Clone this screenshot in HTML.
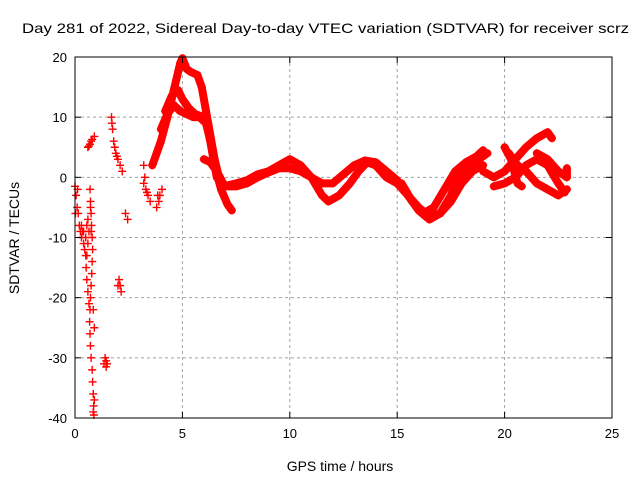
<!DOCTYPE html>
<html><head><meta charset="utf-8">
<style>
body{margin:0;background:#fff;}
svg{display:block;font-family:"Liberation Sans",sans-serif;}
</style></head>
<body>
<svg id="chart" width="640" height="480">
<text x="22" y="33" textLength="607" lengthAdjust="spacingAndGlyphs" font-size="14">Day 281 of 2022, Sidereal Day-to-day VTEC variation (SDTVAR) for receiver scrz</text>
<text x="340" y="471" text-anchor="middle" font-size="14">GPS time / hours</text>
<text transform="translate(19,238) rotate(-90)" text-anchor="middle" font-size="14">SDTVAR / TECUs</text>
<g id="grid"></g><g id="marks"></g><g id="axes"></g>
</svg>
<script>
const xTicks=[0,5,10,15,20,25];
const yTicks=[-40,-30,-20,-10,0,10,20];
const denseTracks=[
[[3.6,2],[4.0,6],[4.3,10],[4.5,13],[4.7,16],[4.9,19],[5.0,19.8],[5.2,18],[5.4,17.5],[5.7,17],[5.9,15],[6.1,11],[6.3,7],[6.5,3],[6.7,0],[7.0,-1.5],[7.5,-1.5],[8,-1],[8.5,0],[9,0.8],[9.5,1.5],[10,1.5],[10.5,1],[11,0],[11.5,-1],[12,-1],[12.5,0.5],[13,2],[13.5,2.8],[14,2.5],[14.5,1],[15,-0.5],[15.5,-3],[16,-5],[16.5,-6.5],[17,-6],[17.5,-4],[18,-1],[18.5,1],[19,2]],
[[4.0,8],[4.3,10.5],[4.6,12],[4.9,11],[5.2,10.5],[5.5,10],[5.8,10],[6.1,9],[6.3,6],[6.5,2],[6.8,-2],[7.1,-4.5],[7.3,-5.5]],
[[4.2,11],[4.5,13.5],[4.8,14.5],[5.0,13],[5.3,11.5],[5.6,10.5],[6.0,10],[6.2,8],[6.4,4],[6.6,0],[6.9,-1.5],[7.5,-1],[8,-0.5],[8.5,0.5],[9,1],[9.5,2],[10,3],[10.5,2],[11,0],[11.5,-3],[11.8,-4],[12.3,-3],[12.8,-1],[13.2,1],[13.6,2.5],[14,2],[14.5,0],[15,-1],[15.5,-3],[16,-5.5],[16.5,-7],[17,-6],[17.5,-3],[17.8,0],[18.3,1.5],[18.8,3],[19.2,4]],
[[6.0,3],[6.3,2.5],[6.6,1],[6.9,-1]],
[[15.2,-1],[15.7,-4],[16.2,-6],[16.7,-5],[17.2,-2],[17.7,1],[18.2,2.5],[18.7,3.5],[19.0,4.5]],
[[19,1],[19.5,0],[20,1],[20.5,3],[21,5],[21.5,6.5],[22,7.5],[22.2,6.5]],
[[19.5,-1.5],[20,-1],[20.5,0],[21,2],[21.5,3],[22,2],[22.5,-1],[22.8,-2.5]],
[[20.2,4],[20.6,2],[21,1],[21.5,-1],[22,-2],[22.5,-3],[22.9,-2]],
[[21.5,4],[22,3],[22.5,1],[22.9,0],[22.9,1.5]],
[[20,5],[20.3,3],[20.6,-1],[20.8,-1.5]]
];
const sparsePoints=[
[0,-1.5],[0.05,-3],[0.1,-5],[0.15,-6],[0.2,-8],[0.25,-9],[0.3,-10],[0.35,-9],[0.4,-11],[0.45,-12],[0.5,-13],[0.02,-6],[0.12,-2],[0.3,-8],[0.4,-9],
[0.7,-2],[0.72,-4],[0.75,-6],[0.77,-8],[0.8,-10],[0.82,-12],[0.8,-14],[0.78,-16],[0.75,-18],[0.72,-20],[0.7,-22],[0.68,-24],[0.7,-26],[0.72,-28],[0.75,-30],[0.8,-32],[0.82,-34],[0.85,-36],[0.87,-38],[0.88,-39.5],[0.9,-37],[0.85,-39],[0.72,-5],[0.75,-9],
[0.6,-7],[0.65,-9],[0.6,-11],[0.55,-13],[0.52,-15],[0.55,-17],[0.6,-19],[0.65,-21],[0.85,-22],[0.9,-25],[0.5,-10],[0.55,-8],
[0.6,5],[0.7,5.5],[0.8,6.3],[0.9,6.8],[0.65,5.2],[0.75,6],
[1.7,10],[1.75,8],[1.8,6],[1.9,4],[2.0,3],[2.1,2],[2.2,1],[1.72,9],[1.85,5],[1.95,3.5],
[2.05,-17],[2.1,-18],[2.15,-19],[2.0,-18],
[1.4,-30],[1.5,-31],[1.45,-31.5],[1.35,-31],[1.45,-30.5],
[2.35,-6],[2.45,-7],
[3.2,2],[3.25,0],[3.3,-2],[3.4,-3],[3.5,-4],[3.2,-1],[3.35,-2.5],
[3.8,-5],[3.9,-4],[3.95,-3],[4.05,-2],[3.85,-3]
];
const L=75,R=612,T=57,B=418;
const X=h=>L+(h-0)/(25-0)*(R-L);
const Y=v=>B-(v+40)/60*(B-T);
const NS="http://www.w3.org/2000/svg";
function mk(tag,parent,attrs){const e=document.createElementNS(NS,tag);for(const k in attrs)e.setAttribute(k,attrs[k]);parent.appendChild(e);return e;}
const grid=document.getElementById('grid'),marks=document.getElementById('marks'),axes=document.getElementById('axes');
xTicks.forEach(t=>{
 if(t>0&&t<25){const g=mk('line',grid,{x1:X(t),x2:X(t),y1:T,y2:B,stroke:'#a0a0a0','stroke-dasharray':'3,3'});
 
 }
 mk('line',axes,{x1:X(t),x2:X(t),y1:B,y2:B-6,stroke:'#000'});
 mk('line',axes,{x1:X(t),x2:X(t),y1:T,y2:T+6,stroke:'#000'});
 const tx=mk('text',axes,{x:X(t),y:B+20,'text-anchor':'middle','font-size':13});tx.textContent=t;
 
 
});
yTicks.forEach(t=>{
 if(t>-40&&t<20){const g=mk('line',grid,{x1:L,x2:R,y1:Y(t),y2:Y(t),stroke:'#a0a0a0','stroke-dasharray':'3,3'});
 
 }
 mk('line',axes,{x1:L,x2:L+6,y1:Y(t),y2:Y(t),stroke:'#000'});
 mk('line',axes,{x1:R,x2:R-6,y1:Y(t),y2:Y(t),stroke:'#000'});
 const tx=mk('text',axes,{x:L-8,y:Y(t)+5,'text-anchor':'end','font-size':13});tx.textContent=t;
 
 
});
const frame=mk('rect',axes,{x:L,y:T,width:R-L,height:B-T,fill:'none',stroke:'#000'});


function plus(x,y){const p=mk('path',marks,{d:`M${x-4},${y}h8M${x},${y-4}v8`,stroke:'#f00','stroke-width':1.4});
 
 }
denseTracks.forEach(tr=>{
 const pl=mk('polyline',marks,{points:tr.map(p=>X(p[0])+','+Y(p[1])).join(' '),fill:'none',stroke:'#f00','stroke-width':8,'stroke-linejoin':'round','stroke-linecap':'round'});
 
 
 tr.forEach(p=>plus(X(p[0]),Y(p[1])));
});
sparsePoints.forEach(p=>plus(X(p[0]),Y(p[1])));
</script>
</body></html>
